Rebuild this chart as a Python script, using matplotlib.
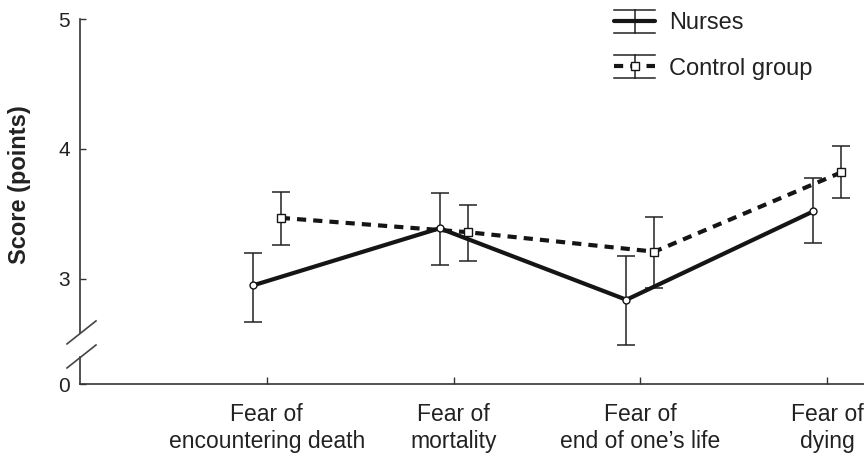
import numpy as np
import matplotlib
matplotlib.use('Agg')
import matplotlib.pyplot as plt
from matplotlib.lines import Line2D
from matplotlib.legend_handler import HandlerBase
from matplotlib.transforms import IdentityTransform

plt.rcParams['font.family'] = ['Liberation Sans', 'DejaVu Sans']

# ---- data ----
categories = ["Fear of\nencountering death", "Fear of\nmortality",
              "Fear of\nend of one\u2019s life", "Fear of\ndying"]
nurses_mean = [2.95, 3.39, 2.84, 3.52]
nurses_lower = [2.67, 3.11, 2.49, 3.28]
nurses_upper = [3.20, 3.66, 3.18, 3.78]
control_mean = [3.47, 3.36, 3.21, 3.82]
control_lower = [3.26, 3.14, 2.93, 3.62]
control_upper = [3.67, 3.57, 3.48, 4.02]
series_labels = ["Nurses", "Control group"]
ytick_values = [3, 4, 5]

# ---- layout ----
W, H = 864, 459
fig = plt.figure(figsize=(W / 100, H / 100), dpi=100)
ax = fig.add_axes([80 / W, 1 - 384 / H, (W - 80) / W, (384 - 19) / H])

INK = '#151515'
AX = '#333333'
TXT = '#222222'
zero_pos = 2.192          # where the broken axis shows "0"
ax.set_xlim(0, 4.197)
ax.set_ylim(zero_pos, 5.0)

x = np.arange(1, len(categories) + 1)
off = 0.075

nm, nl, nu = map(np.array, (nurses_mean, nurses_lower, nurses_upper))
cm, cl, cu = map(np.array, (control_mean, control_lower, control_upper))

eb_kw = dict(fmt='none', ecolor='#222222', elinewidth=1.1, capsize=6.8,
             capthick=1.1, zorder=2)
ax.errorbar(x - off, nm, yerr=[nm - nl, nu - nm], **eb_kw)
ax.errorbar(x + off, cm, yerr=[cm - cl, cu - cm], **eb_kw)

line_n, = ax.plot(x - off, nm, color=INK, lw=3.0, marker='o', ms=5,
                  mfc='white', mec=INK, mew=1.0, zorder=3,
                  solid_capstyle='round')
line_c, = ax.plot(x + off, cm, color=INK, lw=3.0, ls=(0, (2.2, 1.7)),
                  marker='s', ms=5.5, mfc='white', mec=INK, mew=1.0, zorder=3)

# ---- axes styling ----
for s in ('top', 'right'):
    ax.spines[s].set_visible(False)
upper_end, lower_top = 2.585, 2.40
ax.spines['left'].set_bounds(upper_end, 5.0)
for s in ('left', 'bottom'):
    ax.spines[s].set_color(AX)
    ax.spines[s].set_linewidth(1.2)
frac = (lower_top - zero_pos) / (5.0 - zero_pos)
ax.axvline(ax.get_xlim()[0], 0, frac, color=AX, lw=1.2, clip_on=False)

ax.set_yticks([zero_pos] + ytick_values)
ax.set_yticklabels(['0'] + [str(v) for v in ytick_values])
ax.set_xticks(x)
ax.set_xticklabels(categories)
ax.tick_params(axis='y', direction='in', length=4, width=1, colors=AX,
               labelcolor=TXT, labelsize=15, pad=7)
ax.tick_params(axis='x', direction='in', length=5, width=1, colors=AX,
               labelcolor=TXT, labelsize=16.5, pad=14)

ax.set_ylabel('Score (points)', fontsize=17, fontweight='bold', color=TXT)
ax.yaxis.set_label_coords(-0.062, 0.545)

# axis break marks
for yv in (upper_end, lower_top):
    px, py = ax.transData.transform((ax.get_xlim()[0], yv))
    fig.add_artist(Line2D([px - 13, px + 16], [py - 11, py + 12],
                          transform=IdentityTransform(), color='#444444',
                          lw=1.2))


# ---- legend with error-bar style handles ----
class HandlerErrLegend(HandlerBase):
    def __init__(self, show_marker):
        super().__init__()
        self.show_marker = show_marker

    def create_artists(self, legend, orig_handle, xdescent, ydescent,
                       width, height, fontsize, trans):
        x0 = -xdescent
        x1 = x0 + width
        xc = (x0 + x1) / 2
        y0 = -ydescent
        y1 = y0 + height
        yc = (y0 + y1) / 2
        arts = []
        for xs, ys in (([xc, xc], [y0, y1]), ([x0, x1], [y0, y0]),
                       ([x0, x1], [y1, y1])):
            ln = Line2D(xs, ys, color='#222222', lw=1.1)
            ln.set_transform(trans)
            arts.append(ln)
        main = Line2D([x0, x1], [yc, yc])
        self.update_prop(main, orig_handle, legend)
        main.set_marker('None')
        main.set_transform(trans)
        arts.append(main)
        if self.show_marker:
            mk = Line2D([xc], [yc], ls='None', marker=orig_handle.get_marker(),
                        ms=orig_handle.get_markersize(), mfc='white',
                        mec=INK, mew=1.0)
            mk.set_transform(trans)
            arts.append(mk)
        return arts


leg = ax.legend([line_n, line_c], series_labels,
                handler_map={line_n: HandlerErrLegend(False),
                             line_c: HandlerErrLegend(True)},
                loc='upper left', bbox_to_anchor=(614 / W, 1 - 10 / H),
                bbox_transform=fig.transFigure, frameon=False, fontsize=17,
                handlelength=1.74, handleheight=1.1, handletextpad=0.6,
                labelspacing=0.88, borderpad=0, borderaxespad=0)
for t in leg.get_texts():
    t.set_color(TXT)

fig.savefig('out.png', dpi=100)
